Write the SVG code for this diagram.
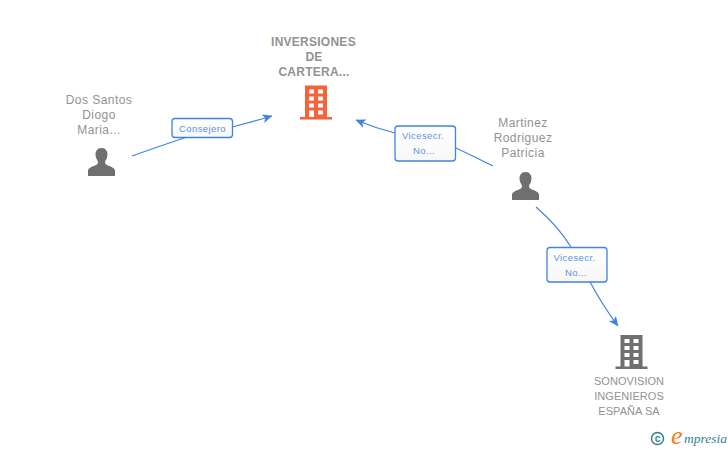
<svg xmlns="http://www.w3.org/2000/svg" width="728" height="450" viewBox="0 0 728 450">
<style>
text{font-family:"Liberation Sans",Arial,sans-serif}
.n{font-size:12px;fill:#929292;text-anchor:middle;letter-spacing:.45px}
.u{font-size:11px;letter-spacing:.05px}
.b{font-weight:bold;font-size:12px;letter-spacing:.25px}
.l{font-size:9.500px;fill:#5b93e6;text-anchor:middle;letter-spacing:.42px}
.c{fill:none;stroke:#3f83e4;stroke-width:1.200}
.box{fill:url(#g);stroke:#3f83e4;stroke-width:1.300}
</style>
<defs>
<linearGradient id="g" x1="0" y1="0" x2="0" y2="1"><stop offset="0" stop-color="#fff"/><stop offset="1" stop-color="#f7f7f7"/></linearGradient>
<marker id="a" markerWidth="14" markerHeight="12" refX="10.500" refY="5" orient="auto" markerUnits="userSpaceOnUse"><path d="M1 .5L11 5L1 9.500L3.500 5Z" fill="#3f83e4"/></marker>
<g id="bld"><path d="M5 0H27V31.500H32V34H0V31.500H5Z"/><g fill="#fff"><rect x="9" y="4" width="5" height="4"/><rect x="18" y="4" width="5" height="4"/><rect x="9" y="11" width="5" height="4"/><rect x="18" y="11" width="5" height="4"/><rect x="9" y="18" width="5" height="4"/><rect x="18" y="18" width="5" height="4"/><rect x="9" y="25" width="5" height="6.500"/><rect x="18" y="25" width="5" height="4"/></g></g>
<path id="per" d="M0 -14C-4.500 -14 -6 -10.500 -6 -7.500C-6 -4.500 -4.500 -2 -3.500 -0.500C-3.500 1.500 -4 2.500 -6.500 3.500C-10 5 -13.500 6 -13.500 9V14H13.500V9C13.500 6 10 5 6.500 3.500C4 2.500 3.500 1.500 3.500 -0.500C4.500 -2 6 -4.500 6 -7.500C6 -10.500 4.500 -14 0 -14Z" fill="#6f6f6f"/>
</defs>
<g id="connectors">
<path class="c" marker-end="url(#a)" d="M132 156Q160 146 187 137M232 127Q252 122 272 116"/>
<path class="c" marker-end="url(#a)" d="M493 166Q475 157 456 148M395 133Q375 128 356 120"/>
<path class="c" marker-end="url(#a)" d="M536 207Q558 226 571 247M590 282Q603 306 618 326"/>
</g>
<g id="node-inversiones">
<text class="n b" x="313.500" y="46">INVERSIONES</text><text class="n b" x="314" y="61">DE</text><text class="n b" x="314" y="76">CARTERA...</text>
<use href="#bld" x="300" y="85.500" fill="#f4633a"/>
</g>
<g id="node-dos-santos">
<text class="n" x="99" y="104">Dos Santos</text><text class="n" x="99" y="119">Diogo</text><text class="n" x="99" y="134">Maria...</text>
<use href="#per" x="101.500" y="162"/>
</g>
<g id="node-martinez">
<text class="n" x="523" y="127">Martinez</text><text class="n" x="523" y="142">Rodriguez</text><text class="n" x="523" y="157">Patricia</text>
<use href="#per" x="525.500" y="186"/>
</g>
<g id="node-sonovision">
<use href="#bld" x="615.500" y="335" fill="#6f6f6f"/>
<text class="n u" x="629" y="385">SONOVISION</text><text class="n u" x="629" y="400">INGENIEROS</text><text class="n u" x="629" y="415">ESPAÑA SA</text>
</g>
<g id="label-consejero">
<rect class="box" x="172" y="118.500" width="60.500" height="19" rx="3"/>
<text class="l" x="202.500" y="131.500">Consejero</text>
</g>
<g id="label-vicesecr-1">
<rect class="box" x="395" y="126" width="60.500" height="35" rx="3"/>
<text class="l" x="423" y="139">Vicesecr.</text><text class="l" x="424" y="154">No...</text>
</g>
<g id="label-vicesecr-2">
<rect class="box" x="547" y="247.500" width="60" height="34.500" rx="3"/>
<text class="l" x="574.500" y="261">Vicesecr.</text><text class="l" x="576" y="276">No...</text>
</g>
<g id="brand">
<circle cx="657.500" cy="438.500" r="6" fill="none" stroke="#2f7f93" stroke-width="1.500"/>
<text x="657.500" y="442" font-size="10" font-weight="bold" fill="#2f7f93" text-anchor="middle">c</text>
<text x="671" y="444" font-size="26" font-style="italic" fill="#ef7d1a" style="font-family:'Liberation Serif',serif">e</text>
<text x="684" y="443" font-size="13.500" font-style="italic" fill="#2f7f93" style="font-family:'Liberation Serif',serif">mpresia</text>
</g>
</svg>
